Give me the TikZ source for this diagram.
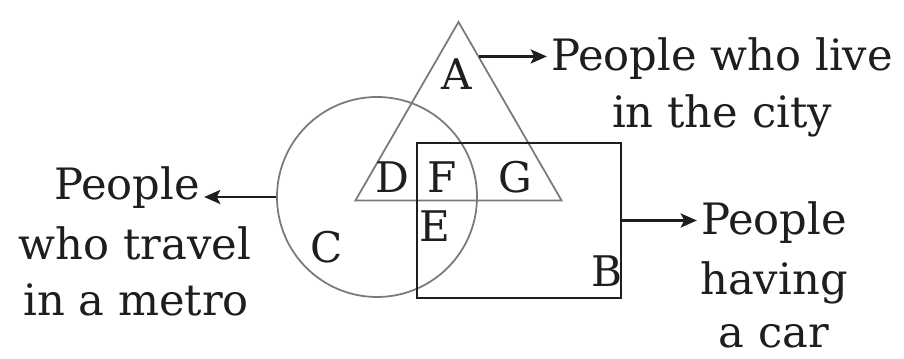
\documentclass[tikz,border=0pt]{standalone}
\usepackage{fontspec}
\setmainfont{DejaVu Serif}
\usepackage{tikz}
\usetikzlibrary{arrows.meta,positioning,shapes.geometric,calc}
\definecolor{vennink}{HTML}{1E1E1E}
\definecolor{venngrey}{HTML}{7A7A7A}

\begin{document}
\begin{tikzpicture}[x=1cm,y=1cm,
  setline/.style={draw=venngrey, line width=0.5pt, inner sep=0pt},
  carline/.style={draw=vennink, line width=0.7pt, inner sep=0pt},
  region/.style={anchor=base, font=\fontsize{12}{14}\selectfont, text=vennink, inner sep=0pt},
  lbl/.style={anchor=base, font=\fontsize{12.3}{14}\selectfont, text=vennink, inner sep=1pt},
  arr/.style={draw=vennink, line width=0.7pt, -{Stealth[length=4.6pt,width=4pt,inset=1pt]}}]
  \useasboundingbox (0,0) rectangle (9.04,3.59);
  \fill[white] (0,0) rectangle (9.04,3.59);

  % Sets
  \node[setline, circle, minimum size=2cm] (metroset) at (3.77,1.62) {};
  \node[setline, regular polygon, regular polygon sides=3, minimum size=2.38cm] (cityset) at (4.585,2.18) {};
  \node[carline, rectangle, minimum width=2.04cm, minimum height=1.55cm] (carset) at (5.19,1.385) {};

  % Region letters
  \node[region] (regA) at (4.57,2.69) {A};
  \node[region] (regD) at (3.92,1.66) {D};
  \node[region] (regF) at (4.42,1.66) {F};
  \node[region] (regG) at (5.15,1.66) {G};
  \node[region] (regE) at (4.35,1.17) {E};
  \node[region] (regC) at (3.27,0.96) {C};
  \node[region] (regB) at (6.07,0.72) {B};

  % Labels
  \node[lbl] (citylbl) at (7.22,2.88) {People who live};
  \node[lbl] (citylbl2) at (7.22,2.31) {in the city};

  \node[lbl] (carlbl) at (7.74,1.24) {People};
  \node[lbl] (carlbl2) at (7.74,0.64) {having};
  \node[lbl] (carlbl3) at (7.74,0.11) {a car};

  \node[lbl] (metrolbl) at (1.27,1.59) {People};
  \node[lbl] (metrolbl2) at (1.35,0.99) {who travel};
  \node[lbl] (metrolbl3) at (1.36,0.43) {in a metro};

  % Arrows
  \path (cityset.corner 1) -- (cityset.corner 3) coordinate[pos=0.2] (cityout);
  \draw[arr] (cityout) -- (cityout -| citylbl.west);
  \draw[arr] (carset.east) -- (carset.east -| carlbl.west);
  \draw[arr] (metroset.west) -- (metroset.west -| metrolbl.east);
\end{tikzpicture}
\end{document}
